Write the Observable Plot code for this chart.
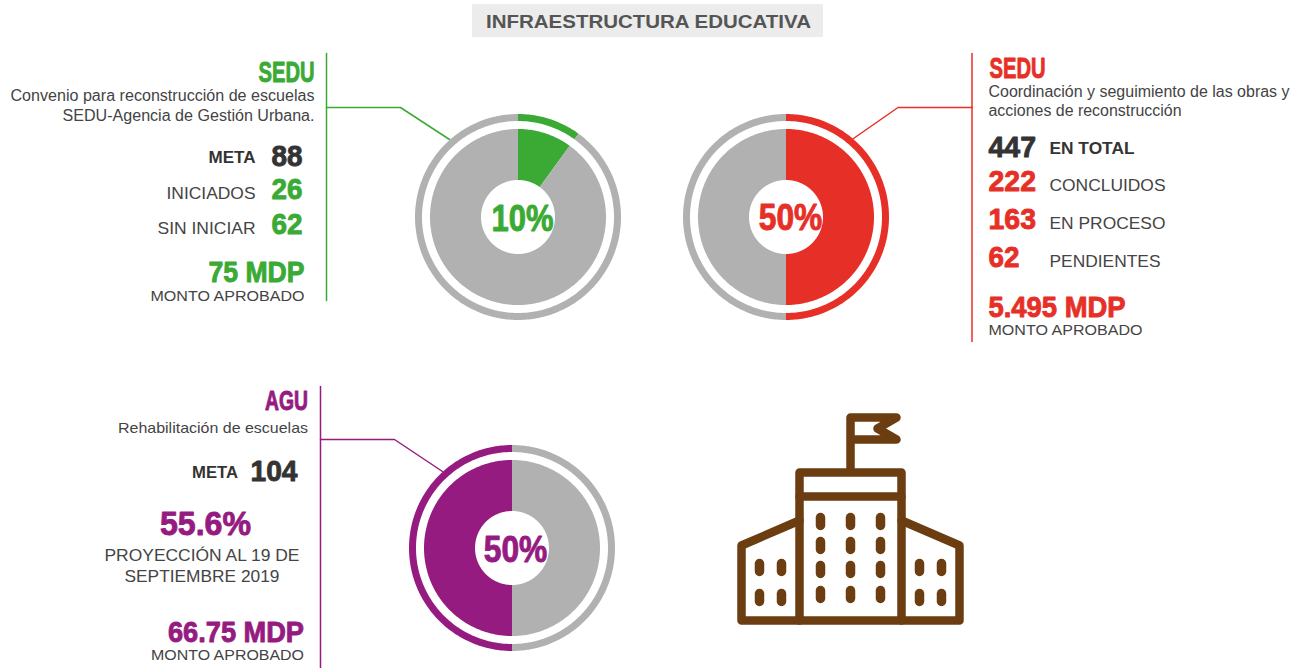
<!DOCTYPE html>
<html lang="es">
<head>
<meta charset="utf-8">
<script src="https://cdn.jsdelivr.net/npm/d3@7"></script>
<script src="https://cdn.jsdelivr.net/npm/@observablehq/plot@0.6"></script>
<style>
  html, body { margin: 0; padding: 0; background: #fff; }
  svg { display: block; }
</style>
</head>
<body>
<div id="chart"></div>
<script>
// ---- Values ----
const titleText = "INFRAESTRUCTURA EDUCATIVA";

const donutNames = ["SEDU convenio", "SEDU coordinación", "AGU"];
const convenioShares = [10, 90];      // avance, resto
const coordinacionShares = [50, 50];  // avance, resto
const aguShares = [50, 50];           // resto, avance

const convenioLabels = ["META", "INICIADOS", "SIN INICIAR"];
const convenioValues = [88, 26, 62];
const convenioMonto = "75 MDP";
const convenioDesc = ["Convenio para reconstrucción de escuelas", "SEDU-Agencia de Gestión Urbana."];

const coordinacionLabels = ["EN TOTAL", "CONCLUIDOS", "EN PROCESO", "PENDIENTES"];
const coordinacionValues = [447, 222, 163, 62];
const coordinacionMonto = "5.495 MDP";
const coordinacionDesc = ["Coordinación y seguimiento de las obras y", "acciones de reconstrucción"];

const aguLabels = ["META"];
const aguValues = [104];
const aguProyeccion = "55.6%";
const aguProyeccionDesc = ["PROYECCIÓN AL 19 DE", "SEPTIEMBRE 2019"];
const aguMonto = "66.75 MDP";
const aguDesc = ["Rehabilitación de escuelas"];
const montoLabel = "MONTO APROBADO";

// ---- Styles ----
const GREEN = "#3aaa35", RED = "#e63027", PURPLE = "#951b81", GREY = "#b1b1b1";
const DARK = "#333333", TXT = "#444444", BROWN = "#6b3d10";
const NARROW = "'Liberation Sans Narrow', 'Liberation Sans', sans-serif";
const SANS = "'Liberation Sans', Arial, sans-serif";

// ---- Layout ----
const bands = [[37, 88], [96, 103]];
const donuts = [
  {name: donutNames[0], cx: 518, cy: 217, shares: convenioShares, colors: [GREEN, GREY]},
  {name: donutNames[1], cx: 786, cy: 217, shares: coordinacionShares, colors: [RED, GREY]},
  {name: donutNames[2], cx: 512, cy: 548, shares: aguShares, colors: [GREY, PURPLE]}
];

// Each donut slice becomes an area band between two radii
const sliceRows = [];
for (const d of donuts) {
  const total = d3.sum(d.shares);
  let start = 0;
  d.shares.forEach((share, i) => {
    const a0 = start / total * 2 * Math.PI, a1 = (start + share) / total * 2 * Math.PI;
    start += share;
    bands.forEach(([r0, r1], b) => {
      const n = Math.max(2, Math.ceil((a1 - a0) / (Math.PI / 180)));
      for (let k = 0; k <= n; k++) {
        const a = a0 + (a1 - a0) * k / n;
        sliceRows.push({
          key: `${d.name}-${i}-${b}`, color: d.colors[i],
          x1: d.cx + r0 * Math.sin(a), y1: d.cy - r0 * Math.cos(a),
          x2: d.cx + r1 * Math.sin(a), y2: d.cy - r1 * Math.cos(a)
        });
      }
    });
  });
}

// Rules and connector lines
const ruleRows = [
  {id: "g", color: GREEN, pts: [[326, 53], [326, 300]]},
  {id: "g2", color: GREEN, pts: [[326, 107], [400, 107], [449, 139]]},
  {id: "r", color: RED, pts: [[971.5, 53], [971.5, 341]]},
  {id: "r2", color: RED, pts: [[971.5, 107], [897.5, 107], [853, 138]]},
  {id: "p", color: PURPLE, pts: [[320, 386], [320, 668]]},
  {id: "p2", color: PURPLE, pts: [[320, 439], [394, 439], [442, 471]]}
].flatMap(r => r.pts.map(([x, y]) => ({id: r.id, color: r.color, x, y})));

// Building icon
const iconPaths = [
  [[850, 468], [850, 417], [896, 417], [877, 428], [896, 439], [850, 439]],
  [[799, 620], [799, 472], [901, 472], [901, 620]],
  [[799, 496], [901, 496]],
  [[799, 520], [741, 545], [741, 620], [959, 620], [959, 545], [901, 520]]
];
const windowPaths = [];
for (const x of [820, 850, 880]) for (const y of [521, 545, 569, 594]) windowPaths.push([[x, y - 4], [x, y + 4]]);
for (const x of [759, 781, 919, 941]) for (const y of [567, 597]) windowPaths.push([[x, y - 4], [x, y + 4]]);
const toRows = paths => paths.flatMap((p, id) => p.map(([x, y]) => ({id, x, y})));

// Text: [text, x, baseline, font size, anchor, fitted width, colour]
const regular = [
  [convenioDesc[0], 314, 100, 16, "end", 304, TXT],
  [convenioDesc[1], 314, 120, 16, "end", 252, TXT],
  [convenioLabels[1], 255, 198, 17, "end", 89, TXT],
  [convenioLabels[2], 255, 233, 17, "end", 98, TXT],
  [montoLabel, 304, 300.5, 15.5, "end", 154, TXT],
  [coordinacionDesc[0], 988, 96, 16, "start", 301, TXT],
  [coordinacionDesc[1], 988, 115, 16, "start", 193, TXT],
  [coordinacionLabels[1], 1049, 190, 17, "start", 116, TXT],
  [coordinacionLabels[2], 1049, 228, 17, "start", 116, TXT],
  [coordinacionLabels[3], 1049, 266, 17, "start", 111, TXT],
  [montoLabel, 988, 334.5, 15.5, "start", 154, TXT],
  [aguDesc[0], 307.5, 432, 15, "end", 190, TXT],
  [aguProyeccionDesc[0], 201.5, 560, 17, "middle", 195, TXT],
  [aguProyeccionDesc[1], 201.5, 581, 17, "middle", 155, TXT],
  [montoLabel, 303.5, 659.5, 15.5, "end", 153, TXT]
];
const bold = [
  [titleText, 648, 27, 19, "middle", 325, "#555555"],
  [convenioLabels[0], 255, 162, 17, "end", 47, DARK],
  [coordinacionLabels[0], 1049, 153, 17, "start", 85, DARK],
  [aguLabels[0], 237.5, 477, 17, "end", 46, DARK]
];
const narrow = [
  ["SEDU", 314, 81.5, 29, "end", 56, GREEN],
  [String(convenioValues[0]), 302, 165.5, 30, "end", 31, DARK],
  [String(convenioValues[1]), 302, 198.5, 30, "end", 31, GREEN],
  [String(convenioValues[2]), 302, 233.5, 30, "end", 31, GREEN],
  [convenioMonto, 304, 281.5, 29, "end", 96, GREEN],
  [`${convenioShares[0]}%`, 522, 230.5, 36, "middle", 62, GREEN],
  ["SEDU", 989, 77.5, 29, "start", 56, RED],
  [String(coordinacionValues[0]), 988, 156.5, 30, "start", 47.5, DARK],
  [String(coordinacionValues[1]), 988, 190.5, 30, "start", 47.5, RED],
  [String(coordinacionValues[2]), 988, 228.5, 30, "start", 47.5, RED],
  [String(coordinacionValues[3]), 988, 266.5, 30, "start", 31, RED],
  [coordinacionMonto, 988, 316.5, 29, "start", 137, RED],
  [`${coordinacionShares[0]}%`, 790, 229.5, 36, "middle", 63.5, RED],
  ["AGU", 307.5, 409.5, 27, "end", 43, PURPLE],
  [String(aguValues[0]), 297, 480.5, 30, "end", 47, DARK],
  [aguProyeccion, 205, 534.5, 34, "middle", 91, PURPLE],
  [aguMonto, 303.5, 641.5, 29, "end", 136, PURPLE],
  [`${aguShares[1]}%`, 515, 561.5, 36, "middle", 63.5, PURPLE]
];

const textMark = (rows, font, weight, extra = {}) =>
  ["start", "middle", "end"].map(anchor => {
    const sub = rows.filter(r => r[4] === anchor);
    return {sub, mark: Plot.text(sub, {
      x: r => r[1], y: r => r[2], text: r => r[0], fontSize: r => r[3],
      fill: r => r[6], textAnchor: anchor, lineAnchor: "bottom",
      fontFamily: font, fontWeight: weight, ...(extra.stroke ? {stroke: r => r[6], strokeWidth: extra.stroke} : {})
    })};
  });

const groups = [
  ...textMark(regular, SANS, 400),
  ...textMark(bold, SANS, 700),
  ...textMark(narrow, NARROW, 700, {stroke: 0.9})
];

const chart = Plot.plot({
  width: 1306, height: 668, margin: 0,
  x: {domain: [0, 1306], range: [0, 1306], axis: null},
  y: {domain: [0, 668], range: [0, 668], axis: null},
  color: {type: "identity"},
  style: {background: "#fff"},
  marks: [
    Plot.rect([titleText], {x1: () => 472, x2: () => 823, y1: () => 4, y2: () => 37, fill: "#ececec"}),
    Plot.line(ruleRows, {x: "x", y: "y", z: "id", stroke: "color", strokeWidth: 1.5}),
    Plot.area(sliceRows, {x1: "x1", y1: "y1", x2: "x2", y2: "y2", z: "key", fill: "color"}),
    Plot.line(toRows(iconPaths), {x: "x", y: "y", z: "id", stroke: BROWN, strokeWidth: 8.5, strokeLinecap: "round", strokeLinejoin: "round"}),
    Plot.line(toRows(windowPaths), {x: "x", y: "y", z: "id", stroke: BROWN, strokeWidth: 9.5, strokeLinecap: "round"}),
    ...groups.map(g => g.mark)
  ]
});

// Fit each label to the width it has in the reference
const flat = groups.flatMap(g => g.sub);
chart.querySelectorAll("text").forEach((node, i) => {
  if (flat[i]) {
    node.setAttribute("textLength", flat[i][5]);
    node.setAttribute("lengthAdjust", "spacingAndGlyphs");
  }
});
document.getElementById("chart").append(chart);
</script>
</body>
</html>
